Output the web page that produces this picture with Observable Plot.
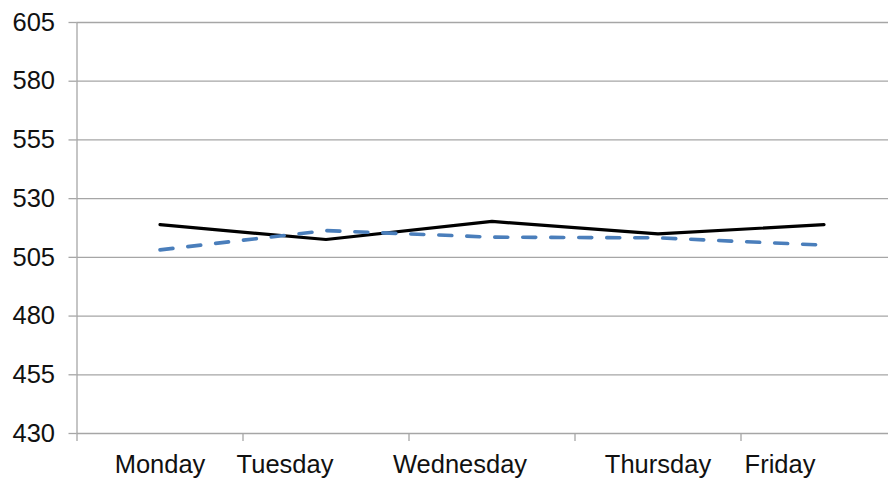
<!DOCTYPE html>
<html>
<head>
<meta charset="utf-8">
<script src="https://cdn.jsdelivr.net/npm/d3@7"></script>
<script src="https://cdn.jsdelivr.net/npm/@observablehq/plot@0.6"></script>
<style>
  html, body { margin: 0; padding: 0; background: #fff; overflow: hidden; }
  #chart svg { display: block; }
</style>
</head>
<body>
<div id="chart"></div>
<script>
// ---- data ----
const days = ["Monday", "Tuesday", "Wednesday", "Thursday", "Friday"];
const seriesSolid = [518.9, 512.6, 520.3, 515.0, 518.9];
const seriesDashed = [508.2, 516.4, 513.6, 513.3, 510.2];
const yTicks = [430, 455, 480, 505, 530, 555, 580, 605];

// ---- build tables ----
const solid = days.map((d, i) => ({day: d, i: i + 0.5, v: seriesSolid[i]}));
const dashed = days.map((d, i) => ({day: d, i: i + 0.5, v: seriesDashed[i]}));
const labels = days.map((d, i) => ({day: d, i: i + 0.5}));
// horizontal nudges reproducing the reference's label placement (styling)
const labelNudge = [0, -41, -32, 0, -44];

const gray = "#a6a6a6";
const font = "Liberation Sans, Arial, Helvetica, sans-serif";

const marks = [
  Plot.gridY(yTicks, {stroke: gray, strokeOpacity: 1, strokeWidth: 1.3}),
  Plot.ruleX([0], {stroke: gray, strokeWidth: 1.3}),
  Plot.axisY({ticks: yTicks, tickSize: 8, tickPadding: 14, fontSize: 25.5, stroke: gray, strokeWidth: 1.3, color: "#111", label: null}),
  Plot.axisX({ticks: [0, 1, 2, 3, 4, 5], tickSize: 8, tickFormat: () => "", stroke: gray, strokeWidth: 1.3, label: null}),
  Plot.line(solid, {x: "i", y: "v", stroke: "#000", strokeWidth: 3.2}),
  Plot.line(dashed, {x: "i", y: "v", stroke: "#4a7ebb", strokeWidth: 3.6, strokeDasharray: "13,15", strokeLinecap: "round"})
];
labels.forEach((l, k) => {
  marks.push(Plot.text([l], {
    x: "i", y: 430, text: "day", dy: 31, dx: labelNudge[k],
    fontSize: 25.5, fill: "#111", textAnchor: "middle", lineAnchor: "middle"
  }));
});

const chart = Plot.plot({
  width: 888,
  height: 483,
  marginLeft: 76.5,
  marginRight: 0,
  marginTop: 22,
  marginBottom: 50,
  style: {fontFamily: font, background: "#fff", overflow: "visible"},
  x: {type: "linear", domain: [0, 5], range: [76.5, 906.5]},
  y: {domain: [430, 605]},
  marks
});
document.getElementById("chart").appendChild(chart);
</script>
</body>
</html>
